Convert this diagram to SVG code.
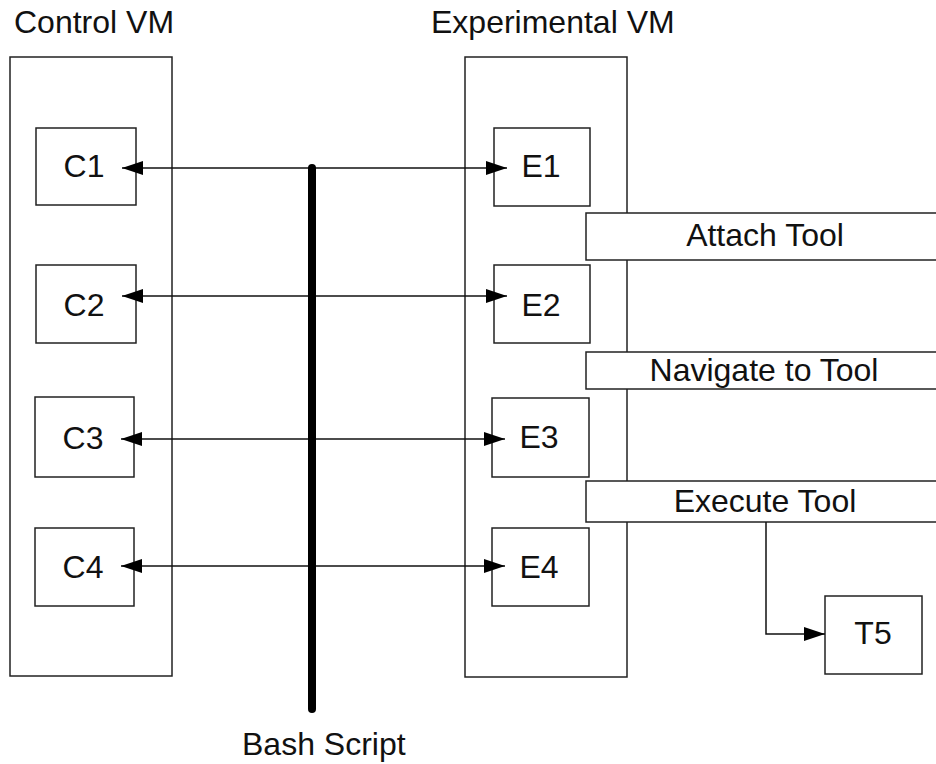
<svg xmlns="http://www.w3.org/2000/svg" width="936" height="764" viewBox="0 0 936 764">
<style>
  .box{fill:#fff;stroke:#222;stroke-width:1.5}
  .t{font-family:"Liberation Sans",Arial,sans-serif;font-size:32px;fill:#111}
  .m{text-anchor:middle}
  .ln{fill:none;stroke:#111;stroke-width:1.5}
</style>
<defs>
  <marker id="ah" viewBox="0 0 21 14" refX="21" refY="7" markerWidth="21" markerHeight="14" markerUnits="userSpaceOnUse" orient="auto-start-reverse">
    <path d="M0,0 L21,7 L0,14 z" fill="#000"/>
  </marker>
</defs>
<rect width="936" height="764" fill="#fff"/>

<g id="control-vm">
  <rect class="box" x="10" y="57" width="162" height="619"/>
  <text class="t" x="14" y="33">Control VM</text>
</g>
<g id="experimental-vm">
  <rect class="box" x="465" y="57" width="162" height="620"/>
  <text class="t" x="431" y="33">Experimental VM</text>
</g>

<g id="C1"><rect class="box" x="36" y="128" width="100" height="77"/><text class="t m" x="84" y="177">C1</text></g>
<g id="C2"><rect class="box" x="36" y="265" width="100" height="78"/><text class="t m" x="84" y="316">C2</text></g>
<g id="C3"><rect class="box" x="35" y="397" width="99" height="80"/><text class="t m" x="83" y="449">C3</text></g>
<g id="C4"><rect class="box" x="35" y="528" width="99" height="78"/><text class="t m" x="83" y="578">C4</text></g>

<g id="E1"><rect class="box" x="494" y="128" width="96" height="78"/><text class="t m" x="541" y="177">E1</text></g>
<g id="E2"><rect class="box" x="494" y="265" width="96" height="78"/><text class="t m" x="541" y="316">E2</text></g>
<g id="E3"><rect class="box" x="492" y="398" width="97" height="79"/><text class="t m" x="539" y="448">E3</text></g>
<g id="E4"><rect class="box" x="492" y="528" width="97" height="78"/><text class="t m" x="539" y="578">E4</text></g>

<g id="attach-tool"><rect class="box" x="586" y="213" width="360" height="47"/><text class="t m" x="765" y="246">Attach Tool</text></g>
<g id="navigate-tool"><rect class="box" x="586" y="352" width="360" height="37"/><text class="t m" x="764" y="381">Navigate to Tool</text></g>
<g id="execute-tool"><rect class="box" x="586" y="481" width="360" height="41"/><text class="t m" x="765" y="512">Execute Tool</text></g>

<g id="T5"><rect class="box" x="825" y="596" width="97" height="78"/><text class="t m" x="873" y="644">T5</text></g>

<g id="connectors">
  <line class="ln" x1="122" y1="168" x2="507" y2="168" marker-start="url(#ah)" marker-end="url(#ah)"/>
  <line class="ln" x1="122" y1="296" x2="507" y2="296" marker-start="url(#ah)" marker-end="url(#ah)"/>
  <line class="ln" x1="121" y1="439" x2="505" y2="439" marker-start="url(#ah)" marker-end="url(#ah)"/>
  <line class="ln" x1="121" y1="566" x2="505" y2="566" marker-start="url(#ah)" marker-end="url(#ah)"/>
  <path class="ln" d="M766,522 V634 H825" marker-end="url(#ah)"/>
</g>

<g id="bash-script">
  <line x1="312" y1="168" x2="312" y2="709" stroke="#000" stroke-width="8" stroke-linecap="round"/>
  <text class="t" x="242" y="755">Bash Script</text>
</g>
</svg>
